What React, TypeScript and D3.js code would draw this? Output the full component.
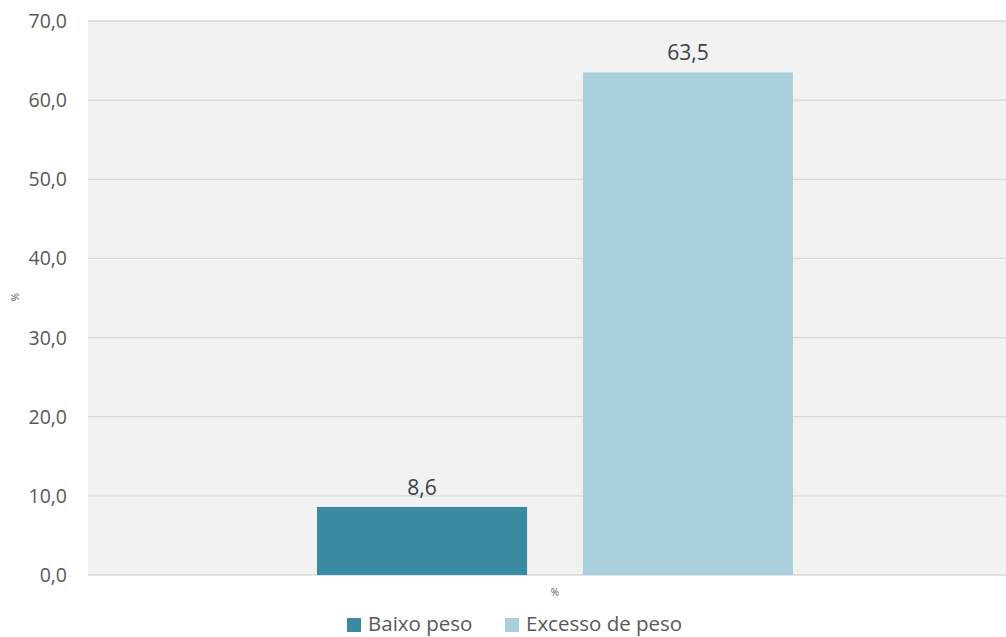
import React from "react";
import * as d3 from "d3";

const categories = ["%"];
const seriesNames = ["Baixo peso", "Excesso de peso"];
const seriesValues = [8.6, 63.5];
const seriesColors = ["#3A8BA1", "#A9CEDC"];
const yTicks = [0, 10, 20, 30, 40, 50, 60, 70];

const W = 1006;
const H = 637;
const plot = { left: 88, right: 1022, top: 21, bottom: 575 };
const font = "'Open Sans', 'Noto Sans', sans-serif";

export default function App() {
  const y = d3.scaleLinear().domain([0, 70]).range([plot.bottom, plot.top]);
  const x0 = d3.scaleBand().domain(categories).range([plot.left, plot.right]).paddingInner(0).paddingOuter(0.481);
  const x1 = d3.scaleBand().domain(seriesNames).range([0, x0.bandwidth()]).paddingInner(0.21).paddingOuter(0);
  const fmt = (v: number) => v.toFixed(1).replace(".", ",");

  return (
    <svg width={W} height={H} style={{ position: "absolute", left: 0, top: 0, background: "#fff" }}>
      <rect x={plot.left} y={plot.top} width={plot.right - plot.left} height={plot.bottom - plot.top} fill="#F2F2F2" />
      {yTicks.map((t) => (
        <g key={t}>
          <line x1={plot.left} x2={plot.right} y1={y(t)} y2={y(t)} stroke="#D9D9D9" strokeWidth={1.3} />
          <text x={67} y={y(t)} dy="0.36em" textAnchor="end" fontFamily={font} fontSize={19.5} fill="#595959">
            {fmt(t)}
          </text>
        </g>
      ))}
      {categories.map((c) => (
        <g key={c}>
          {seriesNames.map((s, i) => {
            const bx = (x0(c) as number) + (x1(s) as number);
            const v = seriesValues[i];
            return (
              <g key={s}>
                <rect x={bx} y={y(v)} width={x1.bandwidth()} height={y(0) - y(v)} fill={seriesColors[i]} />
                <text x={bx + x1.bandwidth() / 2} y={y(v) - 12} textAnchor="middle" fontFamily={font} fontSize={21} fill="#404040">
                  {fmt(v)}
                </text>
              </g>
            );
          })}
          <text x={(x0(c) as number) + x0.bandwidth() / 2} y={596} textAnchor="middle" fontFamily={font} fontSize={10} fill="#595959">
            {c}
          </text>
        </g>
      ))}
      <text transform={`translate(19,297) rotate(-90)`} textAnchor="middle" fontFamily={font} fontSize={10} fill="#595959">
        %
      </text>
      {seriesNames.map((s, i) => {
        const lx = [347, 505][i];
        return (
          <g key={s}>
            <rect x={lx} y={618} width={14} height={14} fill={seriesColors[i]} />
            <text x={lx + 21} y={631} fontFamily={font} fontSize={20.5} fill="#595959">
              {s}
            </text>
          </g>
        );
      })}
    </svg>
  );
}
